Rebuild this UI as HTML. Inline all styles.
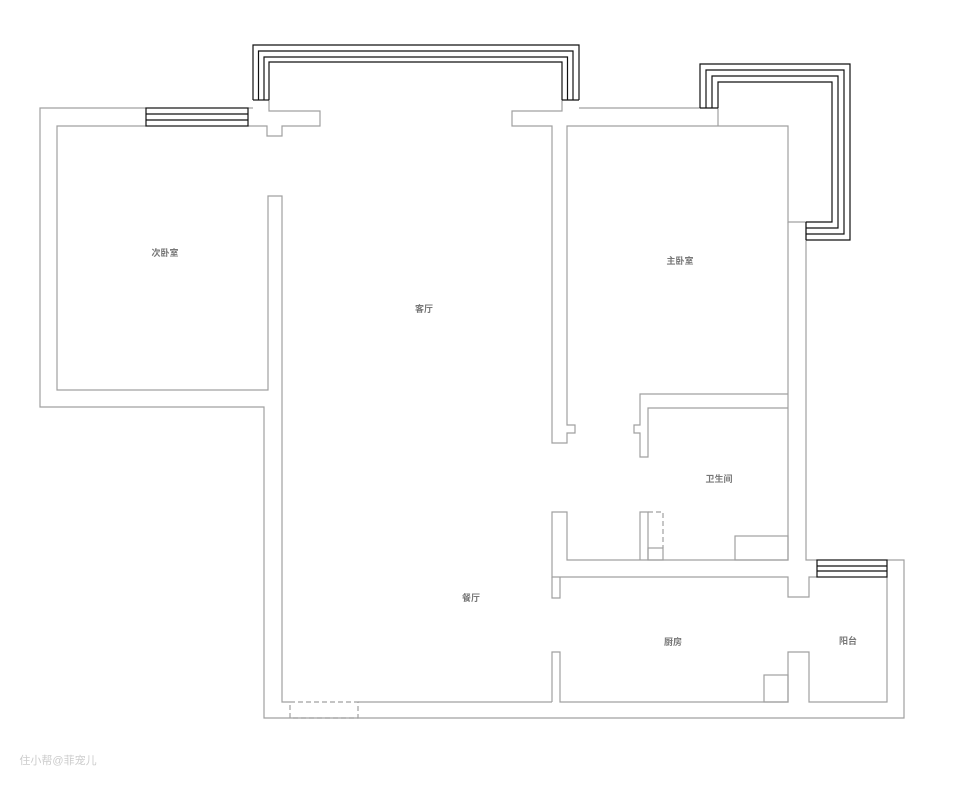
<!DOCTYPE html>
<html><head><meta charset="utf-8"><style>
html,body{margin:0;padding:0;background:#fff;}
svg{display:block;}
text{font-family:"Liberation Sans","Noto Sans CJK SC",sans-serif;font-size:9px;font-weight:bold;fill:#777;text-anchor:middle;}
</style></head><body>
<svg width="955" height="785" viewBox="0 0 955 785" xmlns="http://www.w3.org/2000/svg">
<g fill="none" stroke="#a0a0a0" stroke-width="1.2">
<polyline points="146,108 40,108 40,407 264,407 264,718 904,718 904,560 887,560"/>
<polyline points="248,108 253,108"/>
<polyline points="146,126 57,126 57,390 268,390 268,196 282,196 282,702 290,702"/>
<polyline points="269,100 269,111 320,111 320,126 282,126 282,136 267,136 267,126 248,126"/>
<polyline points="358,702 552,702"/>
<polyline points="562,100 562,111 512,111 512,126 552,126 552,443 567,443 567,433 575,433 575,425 567,425 567,126 788,126 788,222 806,222"/>
<polyline points="579,108 700,108"/>
<polyline points="718,108 718,126"/>
<polyline points="806,222 806,560 817,560"/>
<polyline points="788,222 788,560 567,560 567,512 552,512 552,577 788,577 788,597 809,597 809,577 817,577"/>
<polyline points="552,577 552,598 560,598 560,577"/>
<polyline points="788,394 640,394 640,425 634,425 634,433 640,433 640,457 648,457 648,408 788,408"/>
<polyline points="640,560 640,512 648,512 648,560"/>
<rect x="648" y="548" width="15" height="12"/>
<polyline points="648,512 663,512 663,548" stroke-dasharray="5,3"/>
<rect x="735" y="536" width="53" height="24"/>
<polyline points="887,577 887,702 809,702 809,652 788,652 788,702 560,702 560,652 552,652 552,702"/>
<rect x="764" y="675" width="24" height="27"/>
<rect x="290" y="702" width="68" height="16" stroke-dasharray="5,3"/>
</g>
<g fill="none" stroke="#111" stroke-width="1.2">
<rect x="146" y="108" width="102" height="18"/>
<line x1="146" y1="114" x2="248" y2="114"/><line x1="146" y1="120" x2="248" y2="120"/>
<polyline points="253,100 253,45 579,45 579,100"/>
<polyline points="258.5,100 258.5,51 573,51 573,100"/>
<polyline points="264,100 264,57 567.5,57 567.5,100"/>
<polyline points="269,100 269,62 562,62 562,100"/>
<line x1="253" y1="100" x2="269" y2="100"/><line x1="562" y1="100" x2="579" y2="100"/>
<polyline points="700,108 700,64 850,64 850,240 806,240"/>
<polyline points="706,108 706,70 844,70 844,234 806,234"/>
<polyline points="712,108 712,76 838,76 838,228 806,228"/>
<polyline points="718,108 718,82 832,82 832,222 806,222"/>
<line x1="700" y1="108" x2="718" y2="108"/><line x1="806" y1="222" x2="806" y2="240"/>
<rect x="817" y="560" width="70" height="17"/>
<line x1="817" y1="566" x2="887" y2="566"/><line x1="817" y1="571" x2="887" y2="571"/>
</g>
<text x="165" y="256">次卧室</text>
<text x="424" y="312">客厅</text>
<text x="680" y="264">主卧室</text>
<text x="719" y="482">卫生间</text>
<text x="471" y="601">餐厅</text>
<text x="673" y="645">厨房</text>
<text x="848" y="644">阳台</text>
<text x="58" y="764" style="fill:#ccc;font-weight:normal;font-size:11px">住小帮@菲宠儿</text>
</svg>
</body></html>
